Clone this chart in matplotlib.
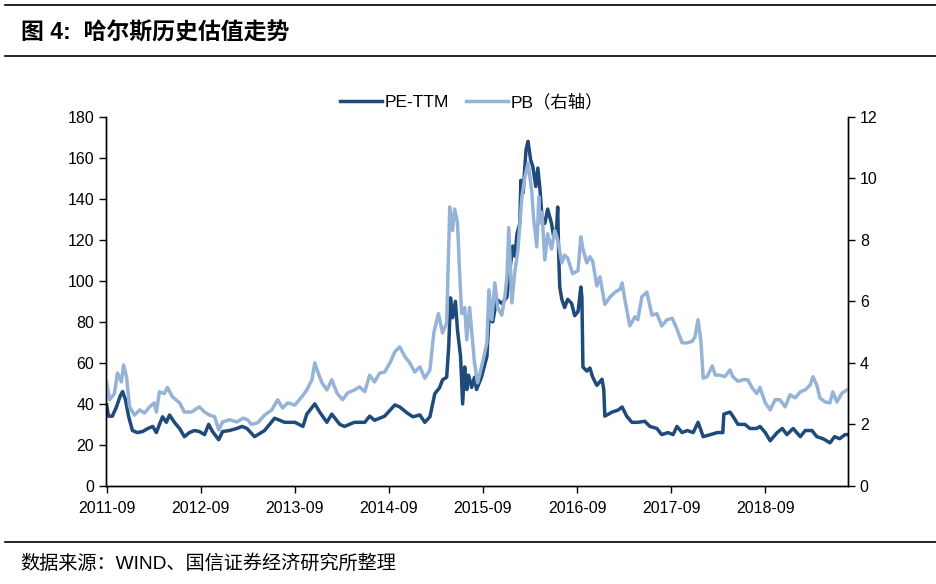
import matplotlib
matplotlib.use("Agg")
import matplotlib.pyplot as plt
from matplotlib.lines import Line2D
import pandas as pd

plt.rcParams['font.family'] = ['Liberation Sans', 'Noto Sans CJK SC', 'DejaVu Sans']

PE_COLOR = '#1f4a7c'
PB_COLOR = '#95b3d7'

# PE-TTM (left axis)
pe_dates = [
    "2011-09-01", "2011-09-08", "2011-09-23", "2011-10-09", "2011-10-24", "2011-11-02",
    "2011-11-13", "2011-11-25", "2011-12-10", "2011-12-29", "2012-01-18", "2012-02-08",
    "2012-02-27", "2012-03-12", "2012-03-24", "2012-04-05", "2012-04-20", "2012-05-02",
    "2012-05-21", "2012-06-10", "2012-06-29", "2012-07-18", "2012-08-07", "2012-08-26",
    "2012-09-15", "2012-10-01", "2012-10-16", "2012-11-09", "2012-11-24", "2012-12-21",
    "2013-01-18", "2013-02-08", "2013-02-27", "2013-03-28", "2013-05-06", "2013-06-14",
    "2013-07-23", "2013-09-01", "2013-10-02", "2013-10-17", "2013-11-17", "2013-12-06",
    "2014-01-03", "2014-01-22", "2014-02-22", "2014-03-12", "2014-04-20", "2014-05-30",
    "2014-06-18", "2014-07-07", "2014-08-15", "2014-09-24", "2014-10-13", "2014-11-10",
    "2014-12-03", "2014-12-30", "2015-01-18", "2015-02-07", "2015-02-26", "2015-03-16",
    "2015-03-28", "2015-04-13", "2015-04-21", "2015-04-28", "2015-05-06", "2015-05-17",
    "2015-05-25", "2015-06-06", "2015-06-14", "2015-06-22", "2015-06-30", "2015-07-07",
    "2015-07-19", "2015-07-30", "2015-08-07", "2015-08-26", "2015-09-16", "2015-09-24",
    "2015-10-09", "2015-10-24", "2015-11-13", "2015-12-03", "2015-12-14", "2015-12-26",
    "2016-01-03", "2016-01-11", "2016-01-22", "2016-01-26", "2016-02-04", "2016-02-15",
    "2016-02-23", "2016-03-04", "2016-03-12", "2016-03-24", "2016-04-01", "2016-04-09",
    "2016-04-17", "2016-04-28", "2016-05-09", "2016-05-24", "2016-06-02", "2016-06-13",
    "2016-06-17", "2016-06-21", "2016-06-25", "2016-07-03", "2016-07-14", "2016-07-26",
    "2016-08-10", "2016-08-22", "2016-09-04", "2016-09-15", "2016-09-19", "2016-09-23",
    "2016-10-08", "2016-10-20", "2016-10-31", "2016-11-16", "2016-12-06", "2016-12-13",
    "2016-12-17", "2017-01-14", "2017-02-07", "2017-02-22", "2017-03-12", "2017-04-01",
    "2017-04-24", "2017-05-21", "2017-06-10", "2017-07-07", "2017-07-26", "2017-08-19",
    "2017-09-08", "2017-09-23", "2017-10-13", "2017-11-02", "2017-11-25", "2017-12-14",
    "2018-01-03", "2018-01-30", "2018-02-27", "2018-03-20", "2018-03-24", "2018-04-17",
    "2018-04-28", "2018-05-18", "2018-06-14", "2018-07-03", "2018-07-30", "2018-08-11",
    "2018-09-01", "2018-09-20", "2018-10-17", "2018-11-06", "2018-11-24", "2018-12-18",
    "2019-01-15", "2019-02-03", "2019-03-01", "2019-03-20", "2019-04-13", "2019-05-10",
    "2019-05-28", "2019-06-17", "2019-07-07", "2019-07-15",
]
pe_values = [
    39.5, 34, 34, 38.5, 44, 46,
    42, 34, 27, 26, 26.5, 28,
    29, 26, 30, 33.7, 31, 34.6,
    31, 28, 24, 26, 27, 26.5,
    25, 30, 26.5, 22.5, 26.5, 27,
    28, 29, 28, 24, 27, 33,
    31, 31, 29, 35, 40, 36,
    31, 35, 30, 29, 31, 31,
    34, 32, 34, 39.5, 38.5, 35.6,
    33.7, 34.6, 31, 33.7, 45, 47.8,
    51.7, 53, 68, 91.7, 82, 90,
    76, 63, 40, 58, 47, 54,
    48, 53, 47, 53, 63, 81,
    80, 91, 89, 92, 105, 117,
    112, 123, 128, 149, 143, 164,
    168, 159, 156, 146, 155, 145,
    131, 128, 135, 128, 121, 126,
    136, 112, 97, 91, 87, 91,
    89, 83, 85, 97, 92, 58,
    56, 57.5, 53, 49, 52, 47,
    34, 36, 37, 38.5, 34, 31,
    31, 31.5, 29, 28, 25, 26,
    25, 29, 26, 27, 26, 31,
    24, 25, 26, 26, 35, 36,
    34, 30, 30, 28, 28, 29,
    26, 22, 26, 28, 25, 28,
    24, 27, 27, 24, 23, 21,
    24, 23, 25, 25,
]

# PB (right axis)
pb_dates = [
    "2011-09-01", "2011-09-12", "2011-10-01", "2011-10-13", "2011-10-28", "2011-11-06",
    "2011-11-17", "2011-11-29", "2011-12-18", "2012-01-07", "2012-01-26", "2012-02-15",
    "2012-03-04", "2012-03-12", "2012-03-24", "2012-04-12", "2012-04-24", "2012-05-13",
    "2012-06-10", "2012-06-29", "2012-07-26", "2012-08-26", "2012-09-15", "2012-10-05",
    "2012-10-24", "2012-11-09", "2012-11-24", "2012-12-21", "2013-01-18", "2013-02-12",
    "2013-03-01", "2013-03-16", "2013-04-09", "2013-05-06", "2013-06-03", "2013-06-26",
    "2013-07-15", "2013-08-04", "2013-09-01", "2013-09-28", "2013-10-17", "2013-11-06",
    "2013-11-17", "2013-11-29", "2013-12-15", "2014-01-03", "2014-01-22", "2014-02-11",
    "2014-03-05", "2014-03-24", "2014-04-20", "2014-05-10", "2014-05-30", "2014-06-18",
    "2014-07-07", "2014-07-27", "2014-08-15", "2014-09-05", "2014-09-24", "2014-10-13",
    "2014-11-02", "2014-11-21", "2014-12-10", "2014-12-30", "2015-01-18", "2015-02-07",
    "2015-02-22", "2015-03-12", "2015-03-28", "2015-04-13", "2015-04-25", "2015-05-06",
    "2015-05-14", "2015-05-25", "2015-06-02", "2015-06-10", "2015-06-22", "2015-06-30",
    "2015-07-11", "2015-07-23", "2015-07-30", "2015-08-11", "2015-08-30", "2015-09-16",
    "2015-09-24", "2015-10-05", "2015-10-17", "2015-10-28", "2015-11-13", "2015-11-25",
    "2015-12-03", "2015-12-10", "2015-12-22", "2016-01-03", "2016-01-14", "2016-01-30",
    "2016-02-11", "2016-02-23", "2016-03-08", "2016-03-16", "2016-03-28", "2016-04-05",
    "2016-04-09", "2016-04-17", "2016-04-28", "2016-05-09", "2016-05-24", "2016-06-06",
    "2016-06-17", "2016-07-03", "2016-07-14", "2016-07-26", "2016-08-14", "2016-09-04",
    "2016-09-15", "2016-09-23", "2016-10-08", "2016-10-20", "2016-10-31", "2016-11-16",
    "2016-11-28", "2016-12-17", "2017-01-07", "2017-01-26", "2017-02-15", "2017-02-22",
    "2017-03-05", "2017-03-24", "2017-04-13", "2017-04-24", "2017-05-10", "2017-05-29",
    "2017-06-18", "2017-07-07", "2017-07-26", "2017-08-15", "2017-09-05", "2017-09-23",
    "2017-10-13", "2017-11-02", "2017-11-21", "2017-12-02", "2017-12-14", "2017-12-25",
    "2018-01-03", "2018-01-18", "2018-02-07", "2018-02-19", "2018-03-08", "2018-03-28",
    "2018-04-17", "2018-04-28", "2018-05-18", "2018-06-06", "2018-06-25", "2018-07-11",
    "2018-07-30", "2018-08-11", "2018-09-01", "2018-09-20", "2018-10-09", "2018-10-28",
    "2018-11-17", "2018-12-06", "2018-12-26", "2019-01-15", "2019-02-03", "2019-02-22",
    "2019-03-05", "2019-03-20", "2019-04-01", "2019-04-21", "2019-05-10", "2019-05-21",
    "2019-06-06", "2019-06-26", "2019-07-15",
]
pb_values = [
    3.38, 2.8, 3.0, 3.67, 3.38, 3.93,
    3.55, 2.57, 2.3, 2.47, 2.37, 2.57,
    2.7, 2.4, 3.06, 3.0, 3.2, 2.9,
    2.7, 2.4, 2.4, 2.57, 2.4, 2.3,
    2.25, 1.82, 2.08, 2.15, 2.08, 2.2,
    2.15, 2.0, 2.05, 2.3, 2.47, 2.8,
    2.53, 2.7, 2.63, 2.9, 3.12, 3.45,
    4.0, 3.7, 3.35, 3.12, 3.45, 3.02,
    2.8, 3.02, 3.12, 3.22, 3.06, 3.6,
    3.38, 3.67, 3.7, 4.0, 4.36, 4.52,
    4.2, 4.0, 3.7, 3.87, 3.5, 3.77,
    4.97, 5.6, 4.97, 5.3, 9.07, 8.3,
    9.0, 8.55, 7.0, 5.6, 5.8, 4.75,
    5.8, 4.65, 4.0, 3.35, 4.0, 4.65,
    6.37, 5.4, 6.6, 5.8, 5.55, 6.15,
    6.8, 8.4, 5.95, 7.0, 7.6, 9.4,
    10.05, 10.5, 9.6, 8.65, 7.77, 9.4,
    8.55, 8.9, 7.35, 8.2, 7.7, 8.3,
    8.0, 7.25, 7.5, 7.4, 6.9, 7.0,
    8.1, 7.7, 7.25, 7.45, 7.3, 6.5,
    6.8, 5.9, 6.15, 6.3, 6.4, 6.6,
    6.05, 5.2, 5.5, 5.4, 6.15, 6.3,
    5.55, 5.6, 5.2, 5.4, 5.45, 5.1,
    4.65, 4.65, 4.7, 4.85, 5.4, 4.7,
    3.5, 3.55, 3.9, 3.6, 3.6, 3.55,
    3.77, 3.55, 3.4, 3.45, 3.45, 3.2,
    3.0, 3.2, 2.7, 2.47, 2.8, 2.8,
    2.57, 2.96, 2.86, 3.06, 3.12, 3.28,
    3.55, 3.28, 2.86, 2.73, 2.7, 3.06,
    2.73, 3.02, 3.12,
]

tick_labels = ["2011-09", "2012-09", "2013-09", "2014-09", "2015-09", "2016-09", "2017-09", "2018-09"]
left_ticks = list(range(0, 181, 20))
right_ticks = list(range(0, 13, 2))

title = "图 4:  哈尔斯历史估值走势"
source = "数据来源：WIND、国信证券经济研究所整理"

pe_x = pd.to_datetime(pe_dates)
pb_x = pd.to_datetime(pb_dates)

fig = plt.figure(figsize=(9.37, 5.84), dpi=100)

# header / footer rules
for y in (0.991, 0.904, 0.072):
    fig.add_artist(Line2D([0.005, 1.0], [y, y], color='black', lw=1.2))
fig.text(0.022, 0.943, title, fontsize=16.5, fontweight='bold', va='center',
         family=['Liberation Sans', 'Noto Sans CJK SC'])
fig.text(0.022, 0.035, source, fontsize=13.8, va='center',
         family=['Liberation Sans', 'Noto Sans CJK SC'])

ax = fig.add_axes([0.113, 0.168, 0.792, 0.632])
ax2 = ax.twinx()

l1, = ax.plot(pe_x, pe_values, color=PE_COLOR, lw=2.5, label='PE-TTM')
l2, = ax2.plot(pb_x, pb_values, color=PB_COLOR, lw=2.5, label='PB（右轴）')

ax.set_xlim(pe_x[0] - pd.Timedelta(days=3), pe_x[-1] + pd.Timedelta(days=4))
ax.set_ylim(0, 180)
ax2.set_ylim(0, 12)
ax.set_yticks(left_ticks)
ax2.set_yticks(right_ticks)
ax.set_xticks(pd.to_datetime([t + "-01" for t in tick_labels]))
ax.set_xticklabels(tick_labels)

for a in (ax, ax2):
    a.spines['top'].set_visible(False)
    for s in a.spines.values():
        s.set_linewidth(1.0)
    a.tick_params(labelsize=11.5, length=5, width=1.0, direction='out', colors='black')
ax.tick_params(axis='x', pad=6)

fig.legend([l1, l2], ['PE-TTM', 'PB（右轴）'], loc='center', bbox_to_anchor=(0.503, 0.826),
           ncol=2, frameon=False, handlelength=2.4, columnspacing=1.0,
           handletextpad=0.15, prop={'family': ['Liberation Sans', 'Noto Sans CJK SC'], 'size': 12.5})

fig.savefig("out.png", dpi=100)
